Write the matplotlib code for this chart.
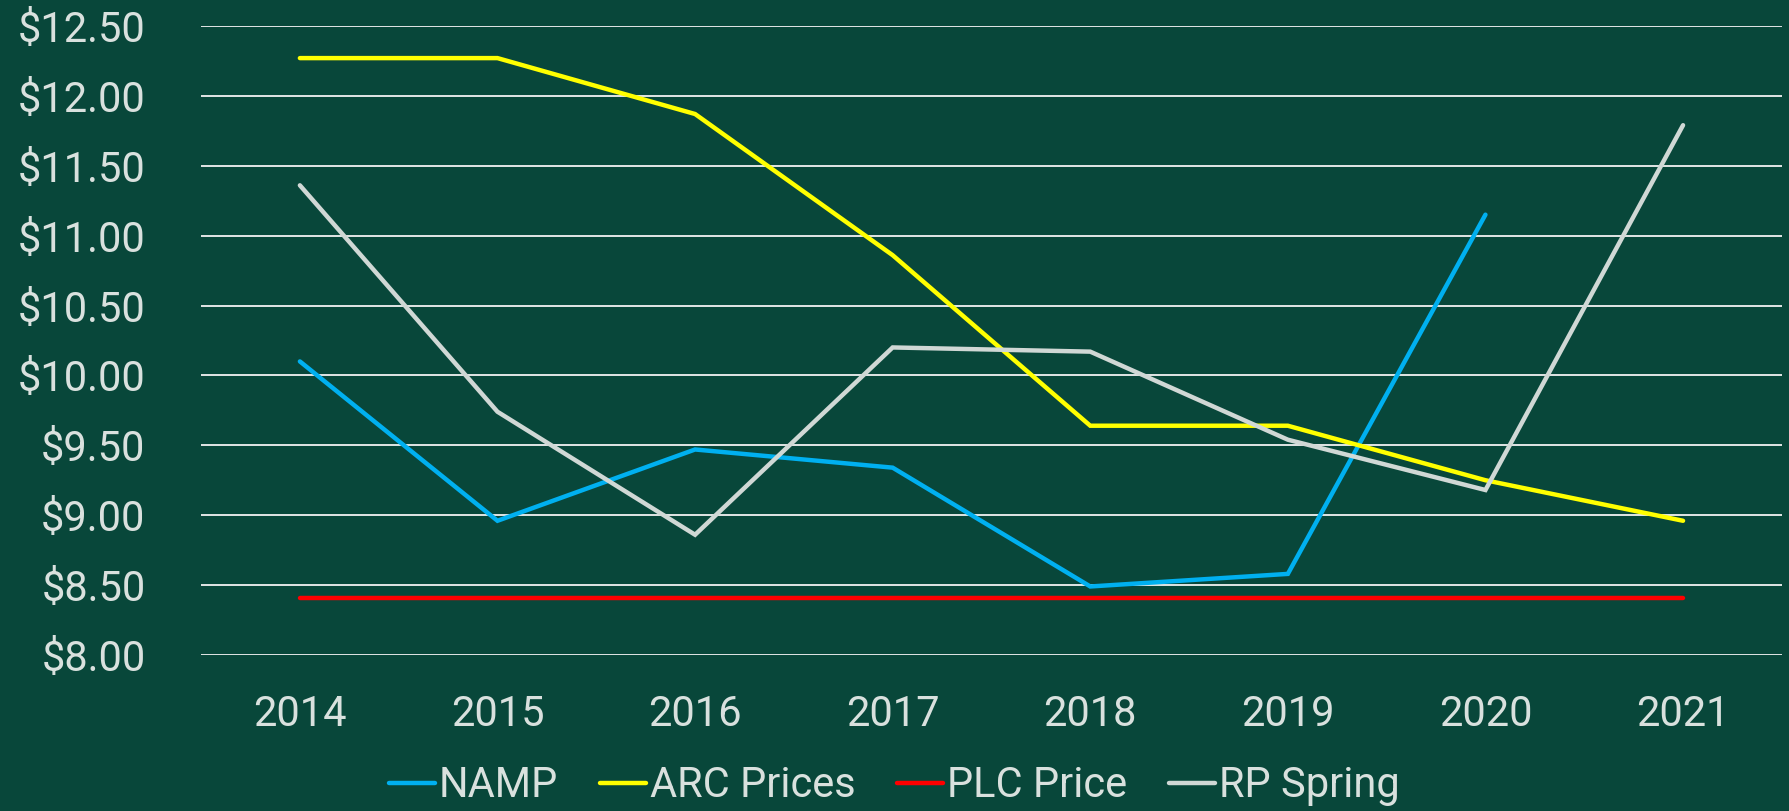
import numpy as np
import matplotlib.pyplot as plt
from matplotlib.ticker import FuncFormatter

years = ['2014', '2015', '2016', '2017', '2018', '2019', '2020', '2021']
namp = [10.10, 8.96, 9.47, 9.34, 8.49, 8.58, 11.15, np.nan]
arc = [12.27, 12.27, 11.87, 10.86, 9.64, 9.64, 9.25, 8.96]
plc = [8.41, 8.41, 8.41, 8.41, 8.41, 8.41, 8.41, 8.41]
rp_spring = [11.36, 9.74, 8.86, 10.20, 10.17, 9.54, 9.18, 11.79]

bg = '#08473a'
txt = '#d9e1de'

plt.rcParams['font.family'] = ['Roboto', 'DejaVu Sans']

fig = plt.figure(figsize=(17.89, 8.11), dpi=100, facecolor=bg)
ax = fig.add_axes([0.1124, 0.1924, 0.8836, 0.7756])
ax.set_facecolor(bg)

x = np.arange(len(years))
kw = dict(lw=3.2, solid_capstyle='round', solid_joinstyle='miter')
ax.plot(x, namp, color='#00b0f0', label='NAMP', **kw)
ax.plot(x, arc, color='#ffff00', label='ARC Prices', **kw)
ax.plot(x, plc, color='#ff0000', label='PLC Price', **kw)
ax.plot(x, rp_spring, color='#d0d8d5', label='RP Spring', **kw)

ax.set_xlim(-0.5, len(years) - 0.5)
ax.set_ylim(8, 12.5)
ax.set_yticks(np.arange(8, 12.51, 0.5))
ax.yaxis.set_major_formatter(FuncFormatter(lambda v, p: f'${v:.2f}'))
ax.set_xticks(x)
ax.set_xticklabels(years)
ax.grid(axis='y', color='#f2f2f2', lw=1.3)
ax.set_axisbelow(True)
for s in ax.spines.values():
    s.set_visible(False)
ax.tick_params(axis='both', length=0, labelsize=30, colors=txt, labelcolor=txt)
ax.tick_params(axis='y', pad=40)
ax.tick_params(axis='x', pad=28)

leg = fig.legend(loc='center', bbox_to_anchor=(0.5, 0.031), ncol=4, frameon=False,
                 fontsize=30, handlelength=1.1, handletextpad=0.1, columnspacing=1.0)
for t in leg.get_texts():
    t.set_color(txt)

fig.savefig('out.png', facecolor=bg)
